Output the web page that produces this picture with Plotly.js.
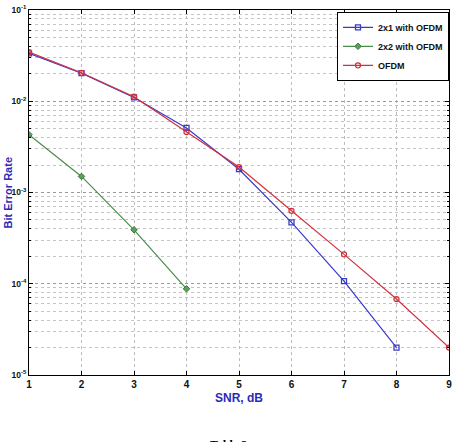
<!DOCTYPE html>
<html>
<head>
<meta charset="utf-8">
<script src="https://cdn.plot.ly/plotly-3.0.1.min.js"></script>
<style>html,body{margin:0;padding:0;background:#fff;}#chart{width:454px;height:442px;}</style>
</head>
<body>
<div id="chart"></div>
<script>
const snr = [1, 2, 3, 4, 5, 6, 7, 8, 9];
const snr2x2 = [1, 2, 3, 4];
const ber2x1 = [0.0335, 0.0203, 0.0110, 0.0051, 0.00180, 0.00047, 0.000107, 0.0000200];
const ber2x2 = [0.0043, 0.00150, 0.00039, 0.000088];
const berOFDM = [0.0345, 0.0205, 0.0112, 0.0046, 0.00190, 0.00063, 0.000210, 0.0000680, 0.0000200];
const names = ["2x1 with OFDM", "2x2 with OFDM", "OFDM"];
const yTickVals = [1e-5, 1e-4, 1e-3, 1e-2, 1e-1];
const yTickText = ['10<sup>-5</sup>', '10<sup>-4</sup>', '10<sup>-3</sup>', '10<sup>-2</sup>', '10<sup>-1</sup>'];
const yTitle = 'Bit Error Rate';
const xTitle = 'SNR, dB';
const caption = 'Table 2';

const narrow = 'Liberation Sans Narrow, Arial Narrow, Liberation Sans, Arial, sans-serif';
const traces = [
  {x: snr.slice(0, ber2x1.length), y: ber2x1, name: names[0], mode: 'lines+markers',
   line: {color: '#3a3ac8', width: 1.2}, marker: {symbol: 'square-open', size: 5, color: '#3a3ac8', line: {width: 1.3}}},
  {x: snr2x2, y: ber2x2, name: names[1], mode: 'lines+markers',
   line: {color: '#4a8c4a', width: 1.2}, marker: {symbol: 'diamond', size: 5, color: '#5aa05a', line: {width: 1, color: '#3a7a3a'}}},
  {x: snr, y: berOFDM, name: names[2], mode: 'lines+markers',
   line: {color: '#d0303e', width: 1.2}, marker: {symbol: 'circle-open', size: 5, color: '#d0303e', line: {width: 1.3}}}
];

const layout = {
  width: 454, height: 442,
  margin: {l: 29, r: 5, t: 10, b: 67},
  paper_bgcolor: '#fff', plot_bgcolor: '#fff',
  showlegend: true,
  legend: {x: 1, xanchor: 'right', y: 0.995, yanchor: 'top', bordercolor: '#000', borderwidth: 1,
           bgcolor: '#fff', font: {family: narrow, size: 9, color: '#111', weight: 'bold'},
           tracegroupgap: 0, itemwidth: 30},
  xaxis: {range: [1, 9], dtick: 1, tick0: 1, showline: true, linecolor: '#000', linewidth: 1, mirror: 'ticks',
          ticks: 'inside', ticklen: 4, tickcolor: '#000', showgrid: true, gridcolor: '#bbb', griddash: 'dot', zeroline: false,
          tickfont: {family: narrow, size: 10, color: '#111', weight: 'bold'},
          title: {text: xTitle, standoff: 4, font: {family: narrow, size: 12, color: '#2b2bb8', weight: 'bold'}}},
  yaxis: {type: 'log', range: [-5, -1], tickmode: 'array', tickvals: yTickVals, ticktext: yTickText,
          showline: true, linecolor: '#000', linewidth: 1, mirror: 'ticks',
          ticks: 'inside', ticklen: 4, tickcolor: '#000', showgrid: true, gridcolor: '#999', griddash: 'dot', zeroline: false,
          tickfont: {family: narrow, size: 8.5, color: '#111', weight: 'bold'},
          minor: {dtick: 'D1', showgrid: true, gridcolor: '#c4c4c4', griddash: 'dot', ticks: 'inside', ticklen: 2, tickcolor: '#000'}},
  annotations: [
    {text: yTitle, xref: 'paper', yref: 'paper', x: 0, xshift: -22, y: 0.5, textangle: -90, xanchor: 'center', yanchor: 'middle',
     showarrow: false, font: {family: 'Liberation Sans, Arial, sans-serif', size: 11, color: '#2b2bb8', weight: 'bold'}},
    {text: caption, xref: 'paper', yref: 'paper', x: 0.475, y: 0, yshift: -61, yanchor: 'top', xanchor: 'center',
     showarrow: false, font: {family: 'Liberation Serif, Times New Roman, serif', size: 12, color: '#000', weight: 'bold'}}]
};

Plotly.newPlot('chart', traces, layout, {displayModeBar: false, staticPlot: true});
</script>
</body>
</html>
